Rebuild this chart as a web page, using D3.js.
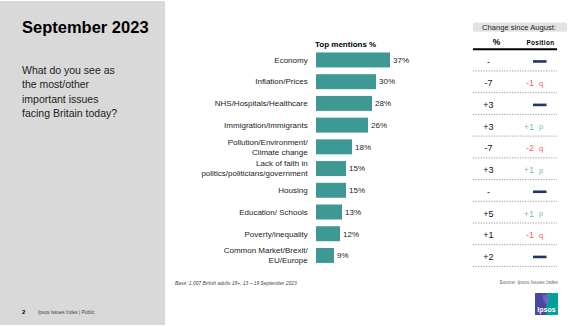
<!DOCTYPE html>
<html><head><meta charset="utf-8">
<script src="https://cdn.jsdelivr.net/npm/d3@7"></script>
<style>
html,body{margin:0;padding:0;background:#fff;}
svg{display:block;font-family:"Liberation Sans",Arial,sans-serif;}
</style></head>
<body>
<svg id="chart" width="579" height="326"></svg>
<script>
const categories = ["Economy","Inflation/Prices","NHS/Hospitals/Healthcare","Immigration/Immigrants",
  "Pollution/Environment/|Climate change","Lack of faith in|politics/politicians/government","Housing",
  "Education/ Schools","Poverty/inequality","Common Market/Brexit/|EU/Europe"];
const values = [37,30,28,26,18,15,15,13,12,9];
const changePct = ["-","-7","+3","+3","-7","+3","-","+5","+1","+2"];
const changePos = ["=","-1","=","+1","-2","+1","=","+1","-1","="];
const questionLines = ["What do you see as","the most/other","important issues","facing Britain today?"];

const svg = d3.select("#chart");
const barColor = "#3e9995";

// left panel
svg.append("rect").attr("x",0).attr("y",1).attr("width",165).attr("height",324).attr("fill","#d9d9d9");
svg.append("text").attr("x",22).attr("y",33).attr("font-size",16.5).attr("font-weight","bold").attr("fill","#000").text("September 2023");
svg.append("g").selectAll("text").data(questionLines).join("text")
  .attr("x",22).attr("y",(d,i)=>74+i*14.4).attr("font-size",10.5).attr("fill","#222").text(d=>d);
svg.append("text").attr("x",22).attr("y",314).attr("font-size",6).attr("font-weight","bold").text("2");
svg.append("text").attr("x",38).attr("y",314).attr("font-size",4.8).attr("fill","#444").text("Ipsos Issues Index  | Public");

// scales
const y = d3.scaleBand().domain(categories).range([49.1,266.3]).paddingInner(0.31).paddingOuter(0.155);
const x = d3.scaleLinear().domain([0,37]).range([316,390]);
const rowC = d => y(d)+y.bandwidth()/2;

svg.append("text").attr("x",315).attr("y",46.5).attr("font-size",8).attr("font-weight","bold").text("Top mentions %");

svg.append("g").selectAll("rect").data(categories).join("rect")
  .attr("x",x(0)).attr("y",d=>y(d)).attr("width",(d,i)=>x(values[i])-x(0)).attr("height",y.bandwidth()).attr("fill",barColor);

svg.append("g").selectAll("text").data(categories).join("text")
  .attr("x",(d,i)=>x(values[i])+3).attr("y",d=>rowC(d)).attr("dy","0.35em").attr("font-size",8).attr("fill","#222")
  .text((d,i)=>values[i]+"%");

// category labels (possibly 2 lines)
const lab = svg.append("g").selectAll("text").data(categories).join("text")
  .attr("x",307.7).attr("text-anchor","end").attr("font-size",8).attr("fill","#222");
lab.each(function(d){
  const parts = d.split("|");
  const t = d3.select(this);
  const c = rowC(d);
  parts.forEach((p,j)=>{
    t.append("tspan").attr("x",307.7).attr("y",c + (j-(parts.length-1)/2)*10).attr("dy","0.35em").text(p);
  });
});

// right table
svg.append("rect").attr("x",473).attr("y",22.7).attr("width",94).attr("height",9).attr("fill","#e2e2e2");
svg.append("text").attr("x",519).attr("y",30).attr("text-anchor","middle").attr("font-size",7.6).attr("fill","#222").text("Change since August:");
svg.append("text").attr("x",496.5).attr("y",45).attr("text-anchor","middle").attr("font-size",8.5).attr("font-weight","bold").text("%");
svg.append("text").attr("x",540.5).attr("y",45).attr("text-anchor","middle").attr("font-size",6.3).attr("font-weight","bold").attr("letter-spacing",0.4).text("Position");
svg.append("line").attr("x1",473).attr("x2",557).attr("y1",49.3).attr("y2",49.3).attr("stroke","#000").attr("stroke-width",2);

svg.append("g").selectAll("line").data(categories).join("line")
  .attr("x1",473).attr("x2",557).attr("y1",d=>y(d)+y.bandwidth()+3.5).attr("y2",d=>y(d)+y.bandwidth()+3.5)
  .attr("stroke","#888").attr("stroke-width",0.8).attr("stroke-dasharray","1.3,1.3");

svg.append("g").selectAll("text").data(categories).join("text")
  .attr("x",488.5).attr("y",d=>rowC(d)+1.5).attr("dy","0.35em").attr("text-anchor","middle").attr("font-size",9).attr("fill","#111")
  .text((d,i)=>changePct[i]);

const pos = svg.append("g");
categories.forEach((c,i)=>{
  const v = changePos[i], cy = rowC(c)+1.5;
  if (v === "=") {
    pos.append("rect").attr("x",533).attr("y",cy-1.3).attr("width",13.5).attr("height",2.6).attr("fill","#1f3566");
  } else {
    const up = v.startsWith("+");
    const col = up ? "#6fc2bd" : "#f06767";
    pos.append("text").attr("x",534).attr("y",cy).attr("dy","0.35em").attr("text-anchor","end").attr("font-size",9).attr("fill",col).text(v);
    pos.append("text").attr("x",539).attr("y",cy).attr("dy","0.35em").attr("font-size",7.5).attr("fill",col).text(up ? "p" : "q");
  }
});

// footnotes
svg.append("text").attr("x",175).attr("y",285).attr("font-size",4.9).attr("font-style","italic").attr("fill","#444")
  .text("Base: 1,007 British adults 18+, 13 – 19 September 2023");
svg.append("text").attr("x",558).attr("y",283.5).attr("text-anchor","end").attr("font-size",4.9).attr("font-style","italic").attr("fill","#666")
  .text("Source: Ipsos Issues Index");

// logo
const lg = svg.append("g").attr("transform","translate(535,293)");
lg.append("rect").attr("width",23).attr("height",22).attr("fill","#4a479c");
lg.append("rect").attr("x",11.5).attr("width",11.5).attr("height",22).attr("fill","#00a19b");
lg.append("path").attr("d","M8,2 L14,2 Q16,6 13,10 L11.5,12 L10,10 Q7,6 8,2Z").attr("fill","#6f6cc0").attr("opacity",0.8);
lg.append("text").attr("x",11.5).attr("y",19).attr("text-anchor","middle").attr("font-size",7).attr("font-weight","bold").attr("fill","#fff").text("Ipsos");
</script>
</body></html>
